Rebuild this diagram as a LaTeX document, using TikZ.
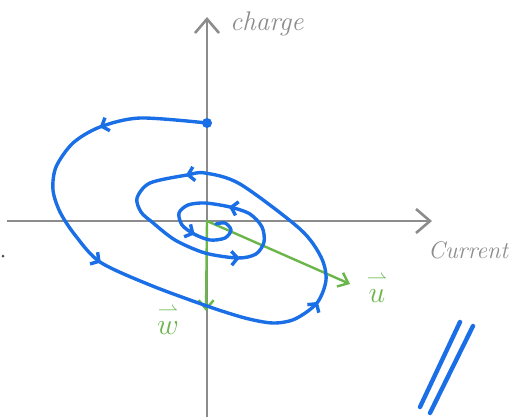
\documentclass[tikz,border=0pt]{standalone}
\usepackage{amsmath}
\usepackage{tikz}
\usepackage{xcolor}
\definecolor{sketchBlue}{HTML}{1A6EE6}
\definecolor{sketchGreen}{HTML}{6AB64A}
\definecolor{sketchGray}{HTML}{8C8C8C}
\usetikzlibrary{arrows.meta,decorations.markings}

\tikzset{
  flowTip/.tip={Straight Barb[length=6pt,width=14pt]},
  axisLine/.style={sketchGray, line width=2.6pt, -{Straight Barb[length=14pt,width=24pt]}},
  eigenArrow/.style={sketchGreen, line width=2.4pt, line cap=round, -{Straight Barb[length=9pt,width=15pt]}},
  flowLine/.style={sketchBlue, line width=3.4pt, line cap=round, line join=round},
  sketchText/.style={sketchGray, font=\fontsize{27}{27}\selectfont\itshape, inner sep=0pt},
  eigenLabel/.style={sketchGreen, font=\fontsize{24}{24}\selectfont, inner sep=0pt, scale=1.2, transform shape},
}

\begin{document}
\begin{tikzpicture}[x=1pt, y=-1pt]
  \useasboundingbox (0,0) rectangle (524,417);
  % axes
  \coordinate (O) at (207,221);
  \coordinate (xStart) at (7,221);
  \coordinate (xEnd) at (432,221);
  \coordinate (yStart) at (207,417);
  \coordinate (yEnd) at (207,17);
  \draw[axisLine] (xStart) -- (xEnd);
  \draw[axisLine] (yStart) -- (yEnd);
  \node[sketchText, anchor=base west] (chargeLabel) at (230,31) {charge};
  \node[sketchText, font=\fontsize{24}{24}\selectfont\itshape, anchor=base west] (currentLabel) at (428,258) {Current};
  \fill[black!70] (3,256) circle (1.5pt);

  % eigen directions
  \coordinate (uTip) at (350,284);
  \coordinate (wTip) at (206,311);
  \draw[eigenArrow] (O) -- (uTip);
  \draw[eigenArrow] (O) -- (wTip);
  \node[eigenLabel] (uLabel) at (377,288) {$\overset{\rightharpoonup}{u}$};
  \node[eigenLabel] (wLabel) at (168,320) {$\overset{\rightharpoonup}{w}$};

  % trajectory
  \draw[flowLine, postaction={decorate}, decoration={markings,
      mark=at position 0.095 with {\arrow{flowTip}},
      mark=at position 0.246 with {\arrow{flowTip}},
      mark=at position 0.451 with {\arrow{flowTip}},
      mark=at position 0.638 with {\arrow{flowTip}},
      mark=at position 0.799 with {\arrow{flowTip}},
      mark=at position 0.875 with {\arrow{flowTip}},
      mark=at position 0.947 with {\arrow{flowTip}}}]
    plot[smooth] coordinates {
      (207,123) (140,118) (100,127) (73,143) (56,167) (53,190) (60,212)
      (75,235) (100,262) (150,285) (207,306) (245,318) (273,323) (295,319)
      (317,303) (326,280) (321,257) (300,229) (240,184) (205,173) (187,175)
      (150,183) (137,198) (141,212) (152,222) (175,240) (205,253) (238,258)
      (256,254) (264,242) (262,227) (250,214) (230,207) (205,203) (188,205)
      (179,213) (182,225) (194,234) (210,240) (225,238) (231,230) (225,223)
      (216,224)};
  \node[circle, fill=sketchBlue, inner sep=0pt, minimum size=10pt] (startDot) at (207,123) {};

  % double stroke mark
  \draw[flowLine, line width=4.4pt] (460,322) -- (420,407);
  \draw[flowLine, line width=4.4pt] (473,326) -- (430,413);
\end{tikzpicture}
\end{document}
